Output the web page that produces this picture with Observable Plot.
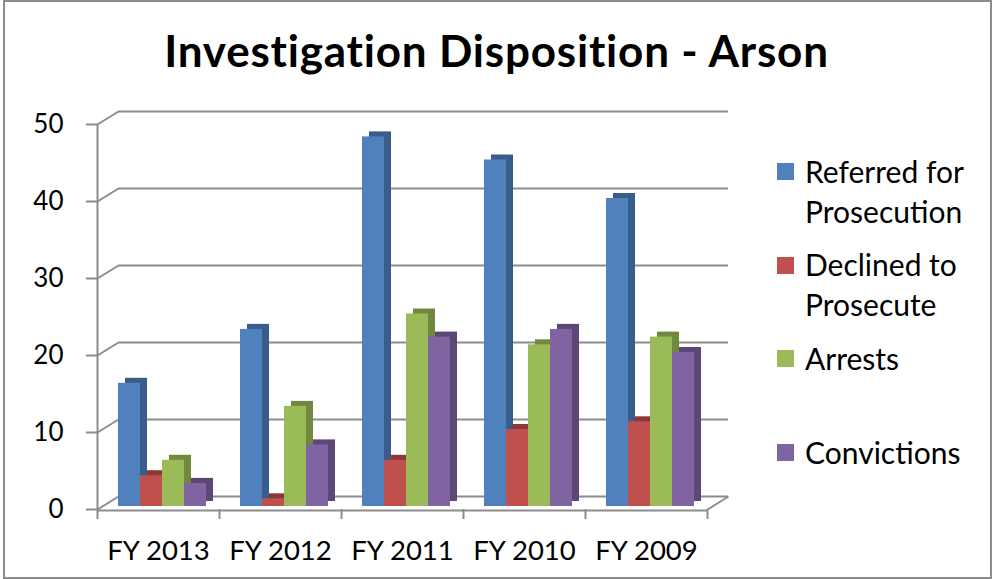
<!DOCTYPE html>
<html>
<head>
<meta charset="utf-8">
<script src="https://cdn.jsdelivr.net/npm/d3@7"></script>
<script src="https://cdn.jsdelivr.net/npm/@observablehq/plot@0.6"></script>
<style>
  html, body { margin: 0; padding: 0; background: #fff; }
  #wrap { position: relative; width: 993px; height: 579px; overflow: hidden; font-family: Lato, "Open Sans", sans-serif; }
  #frame { position: absolute; left: 3px; top: 0px; width: 985px; height: 575px; border: 2px solid #8c8c8c; box-sizing: content-box; }
  #chart { position: absolute; left: 0; top: 0; }
  #title { position: absolute; left: 0; width: 993px; top: 28px; text-align: center; font-weight: 700; font-size: 44px; letter-spacing: 0.8px; color: #000; white-space: nowrap; line-height: 1; }
  .leg { position: absolute; left: 777px; width: 214px; }
  .leg .sw { position: absolute; left: 0; width: 17px; height: 17px; }
  .leg .tx { position: absolute; left: 28px; font-size: 30px; line-height: 40px; color: #000; white-space: nowrap; }
</style>
</head>
<body>
<div id="wrap">
  <div id="frame"></div>
  <div id="chart"></div>
  <div id="title">Investigation Disposition - Arson</div>
  <div id="legend"></div>
</div>
<script>
const years = ["FY 2013", "FY 2012", "FY 2011", "FY 2010", "FY 2009"];
const seriesNames = [["Referred for", "Prosecution"], ["Declined to", "Prosecute"], ["Arrests"], ["Convictions"]];
const referred = [16, 23, 48, 45, 40];
const declined = [4, 1, 6, 10, 11];
const arrests = [6, 13, 25, 21, 22];
const convictions = [3, 8, 22, 23, 20];
const yTicks = [0, 10, 20, 30, 40, 50];

const frontColors = ["#4F81BD", "#C0504D", "#9BBB59", "#8064A2"];
const sideColors = ["#385D8A", "#8C3836", "#71893F", "#5C4776"];

const seriesValues = [referred, declined, arrests, convictions];
const rows = [];
seriesValues.forEach((vals, j) => vals.forEach((v, i) => rows.push({i, j, value: v})));

const W = 993, H = 579;
const mL = 97, mR = 286, mT = 124, mB = 70;
const band = (W - mL - mR) / years.length;      // px per category
const pxPerUnit = (H - mT - mB) / 50;
const depthX = 21, depthY = 13;                  // back-wall offset in px
const dXu = depthX / band;                        // in x data units
const dYu = depthY / pxPerUnit;                   // in y data units
const barW = 22, groupOffset = 21;
const grid = "#8c8c8c";

const marks = [
  // back wall gridlines
  Plot.ruleY(yTicks, {x1: 0, x2: years.length, dx: depthX, dy: -depthY, stroke: grid, strokeWidth: 2}),
  // left diagonal connectors
  Plot.link(yTicks, {x1: 0, y1: d => d, x2: dXu, y2: d => d + dYu, stroke: grid, strokeWidth: 2}),
  // floor front edge and right diagonal
  Plot.ruleY([0], {x1: 0, x2: years.length, stroke: grid, strokeWidth: 2, dy: 1}),
  Plot.link([0], {x1: years.length, y1: 0, x2: years.length + dXu, y2: dYu, stroke: grid, strokeWidth: 2}),
  // front y axis line
  Plot.ruleX([0], {y1: 0, y2: 50, stroke: grid, strokeWidth: 2}),
];

for (let j = 0; j < 4; j++) {
  const data = rows.filter(d => d.j === j);
  const insetLeft = groupOffset + barW * j;
  const insetRight = band - insetLeft - barW;
  marks.push(Plot.rectY(data, {x1: d => d.i, x2: d => d.i + 1, y1: 0, y2: "value", insetLeft, insetRight, fill: sideColors[j], dx: 7, dy: -8}));
  marks.push(Plot.rectY(data, {x1: d => d.i, x2: d => d.i + 1, y1: 0, y2: "value", insetLeft, insetRight, fill: frontColors[j], dy: -3}));
}

marks.push(
  Plot.axisY(yTicks, {tickSize: 11, tickPadding: 23, fontSize: 26, stroke: grid, strokeWidth: 2, fill: "#000", label: null}),
  Plot.axisX(d3.range(years.length + 1), {tickSize: 10, tickFormat: () => "", stroke: grid, strokeWidth: 2, label: null}),
  Plot.axisX(years.map((_, i) => i + 0.5), {tickSize: 0, tickPadding: 31, fontSize: 27.5, fill: "#000", label: null, tickFormat: d => years[Math.round(d - 0.5)]})
);

const chart = Plot.plot({
  width: W, height: H,
  marginLeft: mL, marginRight: mR, marginTop: mT, marginBottom: mB,
  x: {domain: [0, years.length], axis: null, label: null},
  y: {domain: [0, 50], axis: null, label: null},
  style: {fontFamily: "Lato, 'Open Sans', sans-serif", background: "transparent", color: "#000", overflow: "visible"},
  marks
});
document.getElementById("chart").appendChild(chart);

// legend
const legend = document.getElementById("legend");
const entryTop = 163, entryStep = 93.7;
seriesNames.forEach((lines, j) => {
  const e = document.createElement("div");
  e.className = "leg";
  e.style.top = (entryTop + entryStep * j) + "px";
  const sw = document.createElement("div");
  sw.className = "sw"; sw.style.top = "0px"; sw.style.background = frontColors[j];
  e.appendChild(sw);
  lines.forEach((t, k) => {
    const tx = document.createElement("div");
    tx.className = "tx"; tx.textContent = t;
    tx.style.top = (-12.5 + 40 * k) + "px";
    e.appendChild(tx);
  });
  legend.appendChild(e);
});
</script>
</body>
</html>
